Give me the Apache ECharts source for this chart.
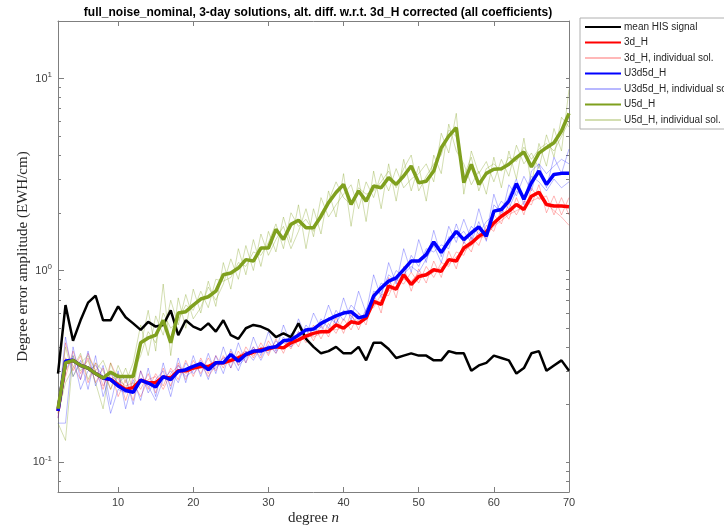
<!DOCTYPE html>
<html>
<head>
<meta charset="utf-8">
<script src="https://cdn.jsdelivr.net/npm/echarts@6/dist/echarts.min.js"></script>
<style>
  html, body { margin: 0; padding: 0; background: #fff; }
  #chart { width: 724px; height: 528px; }
</style>
</head>
<body>
<div id="chart"></div>
<script>
// degree n
var degrees = [2,3,4,5,6,7,8,9,10,11,12,13,14,15,16,17,18,19,20,21,22,23,24,25,26,27,28,29,30,31,32,33,34,35,36,
  37,38,39,40,41,42,43,44,45,46,47,48,49,50,51,52,53,54,55,56,57,58,59,60,61,62,63,64,65,66,67,68,69,70];

// mean HIS signal
var hisSignal = [0.29,0.66,0.43,0.55,0.68,0.74,0.55,0.55,0.65,0.57,0.53,0.49,0.54,0.51,0.52,0.62,0.46,0.55,0.51,0.49,
  0.53,0.48,0.55,0.46,0.44,0.50,0.52,0.51,0.49,0.45,0.47,0.45,0.53,0.44,0.40,0.37,0.38,0.40,0.37,0.37,
  0.40,0.34,0.42,0.42,0.39,0.35,0.36,0.37,0.36,0.36,0.34,0.34,0.38,0.37,0.37,0.30,0.32,0.33,0.36,0.35,
  0.34,0.29,0.31,0.37,0.38,0.30,0.32,0.34,0.30];

// 3d_H
var h3d = [0.185,0.33,0.34,0.32,0.31,0.29,0.275,0.27,0.254,0.24,0.245,0.268,0.26,0.26,0.278,0.275,0.30,0.30,0.31,0.316,
  0.316,0.33,0.33,0.34,0.35,0.365,0.375,0.387,0.39,0.40,0.395,0.42,0.435,0.455,0.47,
  0.48,0.48,0.52,0.50,0.54,0.53,0.566,0.69,0.665,0.83,0.80,0.95,0.845,0.93,0.95,1.01,0.99,1.14,1.12,1.31,
  1.39,1.51,1.59,1.77,1.92,2.04,2.21,2.08,2.44,2.56,2.21,2.17,2.17,2.15];
var h3dSol1 = [0.17,0.42,0.30,0.36,0.26,0.33,0.25,0.30,0.22,0.27,0.21,0.30,0.24,0.29,0.25,0.31,0.27,0.34,0.28,0.35,
  0.29,0.36,0.31,0.38,0.32,0.40,0.35,0.42,0.36,0.44,0.37,0.46,0.40,0.50,0.43,
  0.52,0.45,0.57,0.47,0.60,0.49,0.62,0.64,0.75,0.74,0.90,0.85,0.98,0.86,1.05,0.92,1.10,1.05,1.25,1.20,
  1.50,1.35,1.72,1.60,2.10,1.85,2.40,1.95,2.70,2.35,2.45,1.95,2.40,1.95];
var h3dSol2 = [0.19,0.28,0.38,0.29,0.35,0.26,0.31,0.24,0.29,0.21,0.28,0.24,0.29,0.23,0.31,0.25,0.33,0.27,0.34,0.29,
  0.35,0.30,0.36,0.31,0.38,0.33,0.40,0.35,0.43,0.37,0.44,0.39,0.48,0.42,0.52,
  0.44,0.53,0.47,0.56,0.49,0.60,0.52,0.76,0.60,0.92,0.72,1.05,0.78,1.02,0.86,1.12,0.92,1.26,1.02,1.42,
  1.25,1.66,1.45,1.95,1.75,2.25,1.95,2.30,2.20,2.80,2.00,2.45,1.95,2.40];
var h3dSol3 = [0.18,0.35,0.32,0.27,0.37,0.30,0.24,0.33,0.27,0.25,0.26,0.22,0.27,0.28,0.24,0.29,0.32,0.29,0.31,0.33,
  0.28,0.32,0.35,0.33,0.36,0.38,0.36,0.39,0.38,0.41,0.42,0.40,0.43,0.46,0.45,
  0.47,0.50,0.49,0.51,0.53,0.55,0.58,0.66,0.70,0.78,0.83,0.90,0.88,0.97,0.93,0.98,1.04,1.08,1.18,1.26,
  1.35,1.47,1.52,1.70,1.82,1.96,2.05,2.15,2.30,2.40,2.25,2.05,1.90,1.72];

// U3d5d_H
var u3d5d = [0.185,0.337,0.34,0.32,0.31,0.29,0.275,0.27,0.25,0.237,0.232,0.268,0.259,0.247,0.28,0.27,0.298,0.304,0.316,0.327,
  0.304,0.33,0.33,0.365,0.337,0.365,0.38,0.38,0.395,0.40,0.43,0.435,0.46,0.49,0.495,
  0.53,0.555,0.58,0.60,0.61,0.566,0.58,0.735,0.81,0.88,0.915,1.01,1.12,1.12,1.21,1.41,1.24,1.42,1.60,1.45,
  1.57,1.69,1.51,2.04,2.08,2.30,2.84,2.35,2.87,3.30,2.81,3.17,3.21,3.21];
var u3d5dSol1 = [0.16,0.16,0.40,0.27,0.38,0.25,0.32,0.20,0.30,0.19,0.27,0.21,0.31,0.22,0.33,0.24,0.35,0.26,0.36,0.28,
  0.37,0.29,0.40,0.31,0.42,0.33,0.45,0.36,0.48,0.38,0.52,0.41,0.56,0.45,0.60,
  0.50,0.66,0.52,0.72,0.55,0.78,0.60,0.95,0.72,1.10,0.85,1.30,0.98,1.45,1.10,1.62,1.18,1.70,1.40,1.85,
  1.45,2.10,1.55,2.50,1.90,2.80,2.45,3.10,2.60,3.60,2.70,3.90,3.20,4.30];
var u3d5dSol2 = [0.19,0.45,0.28,0.34,0.24,0.36,0.22,0.29,0.26,0.28,0.20,0.30,0.23,0.27,0.30,0.22,0.32,0.28,0.30,0.34,
  0.27,0.36,0.29,0.39,0.32,0.35,0.40,0.34,0.41,0.37,0.45,0.40,0.48,0.44,0.50,
  0.48,0.57,0.53,0.62,0.58,0.52,0.63,0.70,0.86,0.82,1.00,0.92,1.20,1.05,1.30,1.25,1.36,1.30,1.75,1.38,
  1.70,1.55,1.80,1.95,2.30,2.10,2.60,2.40,3.10,2.90,2.60,3.00,2.70,2.90];
var u3d5dSol3 = [0.17,0.30,0.36,0.24,0.30,0.32,0.28,0.18,0.24,0.23,0.25,0.27,0.25,0.21,0.27,0.30,0.26,0.33,0.29,0.32,
  0.30,0.31,0.35,0.36,0.30,0.38,0.34,0.40,0.37,0.43,0.39,0.47,0.43,0.52,0.46,
  0.56,0.50,0.62,0.55,0.66,0.60,0.55,0.78,0.76,0.95,0.88,0.96,1.05,0.98,1.15,1.35,1.10,1.50,1.48,1.60,
  1.40,1.80,1.42,2.20,2.00,2.45,3.00,2.20,3.30,3.60,3.20,3.50,3.80,3.60];

// U5d_H
var u5d = [0.19,0.33,0.34,0.32,0.31,0.29,0.275,0.295,0.28,0.28,0.28,0.42,0.445,0.46,0.55,0.42,0.60,0.61,0.66,0.71,
  0.73,0.78,0.95,0.97,1.03,1.14,1.12,1.31,1.31,1.64,1.45,1.74,1.83,1.67,1.67,
  1.92,2.26,2.55,2.81,2.21,2.60,2.30,2.76,2.70,3.05,2.81,3.11,3.51,2.87,2.92,3.30,4.37,5.02,5.56,2.87,
  3.58,2.81,3.21,3.37,3.39,3.58,3.88,4.15,3.47,4.09,4.37,4.64,5.34,6.60];
var u5dSol1 = [0.16,0.13,0.36,0.30,0.34,0.26,0.19,0.33,0.25,0.31,0.24,0.40,0.62,0.38,0.85,0.36,0.72,0.50,0.80,0.60,
  0.88,0.65,1.10,0.80,1.30,0.95,1.45,1.05,1.60,1.25,1.90,1.40,2.20,1.30,2.10,
  1.55,2.60,1.90,3.20,1.70,3.00,1.80,3.30,2.10,3.60,2.30,3.80,2.60,3.50,2.30,4.00,3.20,5.80,4.20,3.60,
  2.80,3.30,2.50,3.90,2.70,4.20,3.00,4.90,2.80,4.60,3.50,5.50,4.20,8.80];
var u5dSol2 = [0.18,0.26,0.31,0.37,0.27,0.33,0.30,0.24,0.32,0.26,0.33,0.52,0.36,0.58,0.46,0.70,0.52,0.75,0.56,0.64,
  0.82,0.70,0.85,1.15,0.90,1.35,1.00,1.55,1.20,1.45,1.70,1.30,1.60,2.10,1.50,
  2.40,1.90,2.20,2.50,2.80,2.10,2.90,2.40,3.20,2.60,3.40,2.70,3.00,3.20,3.60,2.90,5.20,4.10,6.60,2.50,
  4.20,3.20,3.70,2.90,3.80,3.10,4.50,3.60,4.10,3.40,5.10,3.90,6.30,5.60];
var u5dSol3 = [0.20,0.40,0.28,0.33,0.36,0.30,0.34,0.27,0.29,0.24,0.30,0.36,0.48,0.42,0.60,0.50,0.55,0.66,0.62,0.78,
  0.64,0.90,0.88,0.92,1.10,1.05,1.25,1.20,1.40,1.75,1.30,2.00,1.70,1.85,1.60,
  2.00,2.30,2.90,2.40,2.20,2.70,2.50,2.60,2.90,3.30,2.70,3.40,4.00,2.60,3.10,3.60,4.00,5.40,5.00,3.10,
  3.90,2.60,3.40,3.60,3.30,3.90,3.70,4.40,3.80,4.30,4.60,4.20,5.00,6.00];

var xTickLabels = [10, 20, 30, 40, 50, 60, 70];
var yTickLabels = [0.1, 1, 10];
var yMinorTicks = [0.07,0.08,0.09,0.2,0.3,0.4,0.5,0.6,0.7,0.8,0.9,2,3,4,5,6,7,8,9,20];

function pairs (vals) {
  return vals.map(function (v, i) { return [degrees[i], v]; });
}

var axisColor = '#7f7f7f';
var labelColor = '#404040';

var chart = echarts.init(document.getElementById('chart'));

function line (name, vals, color, width, z) {
  return {
    name: name,
    type: 'line',
    data: pairs(vals),
    symbol: 'none',
    z: z,
    lineStyle: { color: color, width: width },
    itemStyle: { color: color },
    emphasis: { disabled: true }
  };
}

var thinRed = 'rgba(255,0,0,0.28)';
var thinBlue = 'rgba(0,0,255,0.28)';
var thinOlive = 'rgba(128,160,32,0.35)';

var option = {
  animation: false,
  backgroundColor: '#fff',
  title: {
    text: 'full_noise_nominal, 3-day solutions, alt. diff. w.r.t. 3d_H corrected (all coefficients)',
    left: 313,
    top: 2,
    textAlign: 'center',
    textStyle: {
      fontFamily: '"Liberation Sans Narrow", "Liberation Sans", Arial, sans-serif',
      fontSize: 12,
      fontWeight: 'bold',
      color: '#000'
    }
  },
  legend: {
    orient: 'vertical',
    left: 580,
    top: 18,
    padding: [4, 6, 4, 4],
    itemWidth: 36,
    itemHeight: 10,
    itemGap: 5.5,
    borderColor: '#b0b0b0',
    borderWidth: 1,
    selectedMode: false,
    itemStyle: { opacity: 0 },
    textStyle: { fontFamily: '"Liberation Sans", Arial, sans-serif', fontSize: 10, color: '#262626', padding: [0, 0, 0, -2] },
    data: ['mean HIS signal', '3d_H', '3d_H, individual sol.', 'U3d5d_H', 'U3d5d_H, individual sol.', 'U5d_H', 'U5d_H, individual sol.']
  },
  grid: { left: 58, right: 155, top: 21, bottom: 36, outerBoundsMode: 'none' },
  xAxis: [{
    type: 'value',
    min: 2,
    max: 70,
    position: 'bottom',
    axisLine: { show: true, lineStyle: { color: axisColor } },
    axisTick: { show: true, inside: true, length: 5, customValues: xTickLabels, lineStyle: { color: axisColor } },
    axisLabel: { customValues: xTickLabels, color: labelColor, fontSize: 11, margin: 5, fontFamily: '"Liberation Sans", Arial, sans-serif' },
    splitLine: { show: false },
    name: '{a|degree }{i|n}',
    nameLocation: 'middle',
    nameGap: 19,
    nameMoveOverlap: false,
    nameTextStyle: {
      rich: {
        a: { fontFamily: '"Liberation Serif", "DejaVu Serif", serif', fontSize: 15, color: '#262626' },
        i: { fontFamily: '"Liberation Serif", "DejaVu Serif", serif', fontSize: 15, fontStyle: 'italic', color: '#262626' }
      }
    }
  }, {
    type: 'value',
    min: 2,
    max: 70,
    position: 'top',
    axisLine: { show: true, lineStyle: { color: axisColor } },
    axisTick: { show: true, inside: true, length: 5, customValues: xTickLabels, lineStyle: { color: axisColor } },
    axisLabel: { show: false },
    splitLine: { show: false }
  }],
  yAxis: [{
    type: 'log',
    logBase: 10,
    min: 0.07,
    max: 20,
    position: 'left',
    axisLine: { show: true, lineStyle: { color: axisColor } },
    axisTick: { show: true, inside: true, length: 6, customValues: yTickLabels, lineStyle: { color: axisColor } },
    axisLabel: {
      customValues: yTickLabels,
      margin: 6,
      formatter: function (v) {
        var e = Math.round(Math.log(v) / Math.LN10);
        return '{b|10}{s|' + e + '}';
      },
      rich: {
        b: { fontSize: 11, color: labelColor, fontFamily: '"Liberation Sans", Arial, sans-serif' },
        s: { fontSize: 8, color: labelColor, fontFamily: '"Liberation Sans", Arial, sans-serif', padding: [0, 0, 7, 0] }
      }
    },
    splitLine: { show: false },
    name: 'Degree error amplitude (EWH/cm)',
    nameLocation: 'middle',
    nameGap: 27,
    nameMoveOverlap: false,
    nameTextStyle: { fontFamily: '"Liberation Serif", "DejaVu Serif", serif', fontSize: 15, color: '#262626' }
  }, {
    type: 'log',
    logBase: 10,
    min: 0.07,
    max: 20,
    position: 'left',
    axisLine: { show: false },
    axisTick: { show: true, inside: true, length: 3, customValues: yMinorTicks, lineStyle: { color: axisColor } },
    axisLabel: { show: false },
    splitLine: { show: false }
  }, {
    type: 'log',
    logBase: 10,
    min: 0.07,
    max: 20,
    position: 'right',
    axisLine: { show: true, lineStyle: { color: axisColor } },
    axisTick: { show: true, inside: true, length: 3, customValues: yMinorTicks.concat(yTickLabels), lineStyle: { color: axisColor } },
    axisLabel: { show: false },
    splitLine: { show: false }
  }],
  series: [
    line('3d_H, individual sol.', h3dSol1, thinRed, 1, 1),
    line('3d_H, individual sol.', h3dSol2, thinRed, 1, 1),
    line('3d_H, individual sol.', h3dSol3, thinRed, 1, 1),
    line('U3d5d_H, individual sol.', u3d5dSol1, thinBlue, 1, 1),
    line('U3d5d_H, individual sol.', u3d5dSol2, thinBlue, 1, 1),
    line('U3d5d_H, individual sol.', u3d5dSol3, thinBlue, 1, 1),
    line('U5d_H, individual sol.', u5dSol1, thinOlive, 1, 1),
    line('U5d_H, individual sol.', u5dSol2, thinOlive, 1, 1),
    line('U5d_H, individual sol.', u5dSol3, thinOlive, 1, 1),
    line('mean HIS signal', hisSignal, '#000000', 2.5, 3),
    line('3d_H', h3d, '#ff0000', 3.5, 4),
    line('U3d5d_H', u3d5d, '#0000ff', 3.5, 5),
    line('U5d_H', u5d, '#7fa01e', 3.5, 6)
  ]
};

chart.setOption(option);
</script>
</body>
</html>
